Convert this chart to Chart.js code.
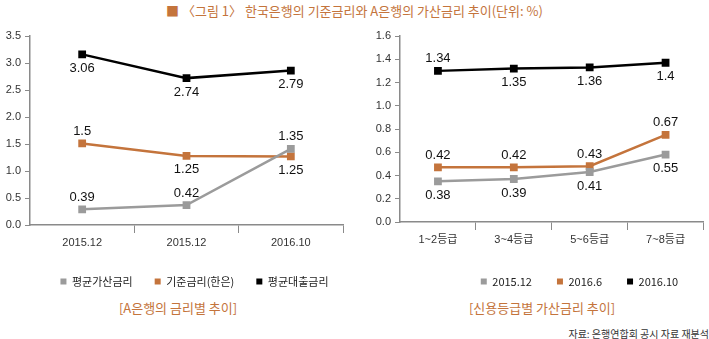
<!DOCTYPE html>
<html>
<head>
<meta charset="utf-8">
<script src="https://cdn.jsdelivr.net/npm/chart.js@4"></script>
<style>
  body { margin: 0; background: #fff; }
  #page { position: relative; width: 709px; height: 339px; overflow: hidden; font-family: "Noto Sans CJK KR", "Liberation Sans", sans-serif; }
  .title { position: absolute; top: 1px; left: 0; width: 709px; text-align: center; font-size: 13px; color: #c4743c; }
  .sub { position: absolute; top: 298px; font-size: 13px; color: #c4743c; text-align: center; }
  .src { position: absolute; top: 326px; right: 0; font-size: 10px; color: #333; }
  canvas { position: absolute; }
</style>
</head>
<body>
<div id="page">
  <div class="title">■ 〈그림 1〉 한국은행의 기준금리와 A은행의 가산금리 추이(단위: %)</div>
  <canvas id="left-chart" style="left:0;top:25px;width:352px;height:272px"></canvas>
  <canvas id="right-chart" style="left:355px;top:25px;width:354px;height:272px"></canvas>
  <div class="sub" style="left:98px;width:160px">[A은행의 금리별 추이]</div>
  <div class="sub" style="left:452px;width:180px">[신용등급별 가산금리 추이]</div>
  <div class="src">자료: 은행연합회 공시 자료 재분석</div>
</div>
<script>
// ---- left chart data: A bank rates
const leftCategories = ["2015.12", "2015.12", "2016.10"];
const leftSeriesNames = ["평균가산금리", "기준금리(한은)", "평균대출금리"];
const leftSpread = [0.29, 0.37, 1.41];
const leftBase = [1.51, 1.28, 1.27];
const leftLoan = [3.16, 2.72, 2.86];
// printed value labels (as written in the figure)
const leftSpreadText = ["0.39", "0.42", "1.35"];
const leftBaseText = ["1.5", "1.25", "1.25"];
const leftLoanText = ["3.06", "2.74", "2.79"];

// ---- right chart data: spread by credit grade
const rightCategories = ["1~2등급", "3~4등급", "5~6등급", "7~8등급"];
const rightSeriesNames = ["2015.12", "2016.6", "2016.10"];
const right201512 = [0.35, 0.37, 0.43, 0.58];
const right20166 = [0.47, 0.47, 0.48, 0.75];
const right201610 = [1.30, 1.32, 1.33, 1.37];
const right201512Text = ["0.38", "0.39", "0.41", "0.55"];
const right20166Text = ["0.42", "0.42", "0.43", "0.67"];
const right201610Text = ["1.34", "1.35", "1.36", "1.4"];

const GRAY = "#9b9b9b";
const ORANGE = "#c4743c";
const BLACK = "#000000";
const AXIS = "#8a8a8a";
const NUM_FONT = "'Liberation Sans', 'Noto Sans CJK KR', sans-serif";

// draws the value text above (-1) or below (+1) each point
const valueLabels = {
  id: "valueLabels",
  afterDatasetsDraw(chart) {
    const ctx = chart.ctx;
    ctx.save();
    ctx.font = "13px " + NUM_FONT;
    ctx.fillStyle = "#111";
    ctx.textAlign = "center";
    ctx.textBaseline = "middle";
    chart.data.datasets.forEach((ds, i) => {
      const meta = chart.getDatasetMeta(i);
      meta.data.forEach((pt, j) => {
        const side = ds.labelSide[j];
        const dy = side < 0 ? -12 : 14;
        ctx.fillText(ds.valueText[j], pt.x, pt.y + dy);
      });
    });
    ctx.restore();
  }
};

// legend in the figure sits a bit right of the canvas centre
const legendShift = {
  id: "legendShift",
  afterLayout(chart, args, opts) {
    const lg = chart.legend;
    if (!lg) return;
    lg.left += opts.dx;
    lg.right += opts.dx;
  }
};

function lineSet(label, data, text, side, color) {
  return {
    label: label,
    data: data,
    valueText: text,
    labelSide: side,
    borderColor: color,
    backgroundColor: color,
    borderWidth: 2.5,
    pointStyle: "rect",
    pointRadius: 5.5,
    pointHoverRadius: 5.5,
    pointBackgroundColor: color,
    pointBorderWidth: 0,
    tension: 0
  };
}

function makeOptions(yMax, yStep, yWidth, legendPad, padRight, legendDx) {
  return {
    responsive: false,
    animation: false,
    layout: { padding: { top: 11, right: padRight, left: 0, bottom: 0 } },
    plugins: {
      tooltip: { enabled: false },
      legendShift: { dx: legendDx },
      legend: {
        position: "bottom",
        labels: {
          boxWidth: 6,
          boxHeight: 6,
          padding: legendPad,
          color: "#222",
          font: { family: "'Noto Sans CJK KR', 'Liberation Sans', sans-serif", size: 11 },
          generateLabels: chart => Chart.defaults.plugins.legend.labels.generateLabels(chart)
            .map(l => Object.assign(l, { lineWidth: 0, fillStyle: l.strokeStyle }))
        }
      }
    },
    scales: {
      x: {
        offset: true,
        grid: {
          offset: true,
          drawOnChartArea: false,
          tickLength: 8,
          color: ctx => (ctx.index === 0 || ctx.index === ctx.chart.data.labels.length) ? "rgba(0,0,0,0)" : AXIS
        },
        border: { color: AXIS, width: 1.5 },
        ticks: { color: "#333", padding: 3, font: { family: NUM_FONT, size: 11 } },
        afterFit: s => { s.height = 29; }
      },
      y: {
        min: 0,
        max: yMax,
        grid: { drawOnChartArea: false, tickLength: 5, color: AXIS },
        border: { color: AXIS, width: 1.5 },
        ticks: {
          stepSize: yStep,
          color: "#333",
          padding: 4,
          font: { family: NUM_FONT, size: 11 },
          callback: v => Number(v).toFixed(1)
        },
        afterFit: s => { s.width = yWidth; }
      }
    }
  };
}

new Chart(document.getElementById("left-chart"), {
  type: "line",
  data: {
    labels: leftCategories,
    datasets: [
      lineSet(leftSeriesNames[0], leftSpread, leftSpreadText, [-1, -1, -1], GRAY),
      lineSet(leftSeriesNames[1], leftBase, leftBaseText, [-1, 1, 1], ORANGE),
      lineSet(leftSeriesNames[2], leftLoan, leftLoanText, [1, 1, 1], BLACK)
    ]
  },
  options: makeOptions(3.5, 0.5, 30, 22, 9, 23),
  plugins: [valueLabels, legendShift]
});

new Chart(document.getElementById("right-chart"), {
  type: "line",
  data: {
    labels: rightCategories,
    datasets: [
      lineSet(rightSeriesNames[0], right201512, right201512Text, [1, 1, 1, 1], GRAY),
      lineSet(rightSeriesNames[1], right20166, right20166Text, [-1, -1, -1, -1], ORANGE),
      lineSet(rightSeriesNames[2], right201610, right201610Text, [-1, 1, 1, 1], BLACK)
    ]
  },
  options: makeOptions(1.6, 0.2, 45, 25, 1, 48),
  plugins: [valueLabels, legendShift]
});
</script>
</body>
</html>
